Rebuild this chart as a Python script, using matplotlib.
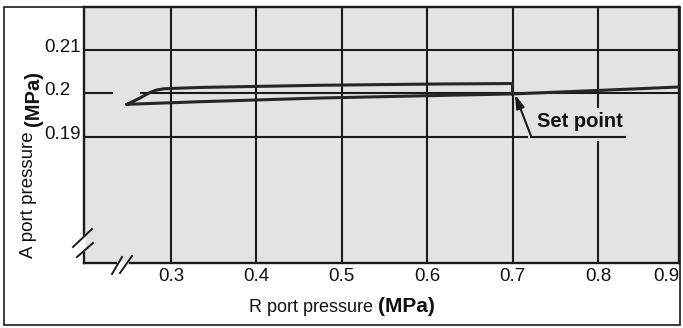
import matplotlib
matplotlib.use('Agg')
import matplotlib.pyplot as plt
import matplotlib.transforms as mtransforms
from matplotlib.patches import Rectangle
from matplotlib.lines import Line2D

plt.rcParams['font.family'] = ['Liberation Sans', 'DejaVu Sans']

# tick values / labels
x_ticks = [0.3, 0.4, 0.5, 0.6, 0.7, 0.8, 0.9]
x_tick_labels = ['0.3', '0.4', '0.5', '0.6', '0.7', '0.8', '0.9']
y_ticks = [0.21, 0.2, 0.19]
y_tick_labels = ['0.21', '0.2', '0.19']

# hysteresis loop: R port pressure (MPa) vs A port pressure (MPa)
loop_r = [0.2485, 0.262, 0.275, 0.283, 0.292, 0.334, 0.474, 0.615, 0.700,
          0.700, 0.615, 0.474, 0.334, 0.2485]
loop_a = [0.1975, 0.1988, 0.2002, 0.2008, 0.2011, 0.2014, 0.2019, 0.2022, 0.2023,
          0.1999, 0.19955, 0.19895, 0.1981, 0.1975]

# curve beyond the set point
over_r = [0.700, 0.800, 0.895]
over_a = [0.1999, 0.2007, 0.2015]

set_point = (0.700, 0.1999)

W, H = 683, 328
xmin, xmax = 0.198, 0.895
ymin, ymax = 0.1608, 0.220
line_col = '#1a1a1a'
txt_col = '#111111'


def px(x, y):
    # pixel position (from top-left) -> figure fraction
    return x / W, 1 - y / H


fig = plt.figure(figsize=(W / 100, H / 100), dpi=100)
fig.patch.set_facecolor('white')
ax = fig.add_axes([84 / W, 1 - 263 / H, 595 / W, 256 / H])
ax.set_facecolor('#e3e3e3')
ax.set_xlim(xmin, xmax)
ax.set_ylim(ymin, ymax)
ax.set_xticks([])
ax.set_yticks([])
for s in ax.spines.values():
    s.set_linewidth(1.7)
    s.set_color(line_col)

# outer frame
fig.add_artist(Rectangle(px(4, 325), 676 / W, 318 / H, transform=fig.transFigure,
                         fill=False, lw=1.2, ec=line_col))

# vertical grid
for v in x_ticks:
    if xmin < v < xmax:
        if v == 0.8:
            ax.plot([v, v], [ymin, 0.1887], color=line_col, lw=1.5, zorder=1)
            ax.plot([v, v], [0.1969, ymax], color=line_col, lw=1.5, zorder=1)
        else:
            ax.plot([v, v], [ymin, ymax], color=line_col, lw=1.5, zorder=1)

# horizontal grid
ax.plot([xmin, xmax], [0.21, 0.21], color=line_col, lw=1.5, zorder=1)
ax.plot([xmin, 0.231], [0.2, 0.2], color=line_col, lw=1.5, zorder=1)
ax.plot([0.265, xmax], [0.2, 0.2], color=line_col, lw=1.5, zorder=1)
ax.plot([xmin, 0.717], [0.19, 0.19], color=line_col, lw=1.5, zorder=1)

# pressure curves
ax.plot(loop_r, loop_a, color='#262626', lw=2.2, zorder=3, solid_joinstyle='round')
ax.plot(over_r, over_a, color='#262626', lw=2.2, zorder=3)

# set point annotation
ax.plot([0.722, 0.832], [0.19, 0.19], color=line_col, lw=1.5, zorder=4)
ax.annotate('', xy=(set_point[0] + 0.003, set_point[1] - 0.0002), xytext=(0.722, 0.19),
            arrowprops=dict(arrowstyle='-|>,head_length=0.8,head_width=0.25',
                            color=line_col, lw=1.5, shrinkA=0, shrinkB=0), zorder=4)
ax.text(0.779, 0.1935, 'Set point', fontsize=14.5, fontweight='bold', ha='center',
        va='center', color=txt_col, zorder=2)

# x tick labels
tx = mtransforms.blended_transform_factory(ax.transData, fig.transFigure)
for v, lab in zip(x_ticks, x_tick_labels):
    if v < xmax:
        ax.text(v, 1 - 276.5 / H, lab, transform=tx, ha='center', va='center', fontsize=13.5,
                color=txt_col)
    else:
        ax.text(xmax, 1 - 276.5 / H, lab, transform=tx, ha='right', va='center', fontsize=13.5,
                color=txt_col)

# y tick labels (left aligned)
ty = mtransforms.offset_copy(mtransforms.blended_transform_factory(fig.transFigure, ax.transData),
                             fig=fig, y=-2, units='dots')
for v, lab in zip(y_ticks, y_tick_labels):
    ax.text(44 / W, v, lab, transform=ty, ha='left', va='baseline', fontsize=13.5,
            color=txt_col)

# axis titles: regular text + bold unit
fig.text(*px(373, 312), 'R port pressure', ha='right', va='baseline', fontsize=13,
         color=txt_col)
fig.text(*px(378, 312), '(MPa)', ha='left', va='baseline', fontsize=15, fontweight='bold',
         color=txt_col)
fig.text(*px(33, 258), 'A port pressure', rotation=90, rotation_mode='anchor',
         ha='left', va='baseline', fontsize=13.5, color=txt_col)
fig.text(*px(38.5, 126), '(MPa)', rotation=90, rotation_mode='anchor',
         ha='left', va='baseline', fontsize=14.5, fontweight='bold', color=txt_col)

# axis break marks
brk = dict(color=line_col, lw=1.4)
fig.add_artist(Line2D([px(84, 0)[0]] * 2, [px(0, 238)[1], px(0, 250)[1]],
                      color='white', lw=2.6, transform=fig.transFigure))
fig.add_artist(Line2D([px(73, 0)[0], px(92, 0)[0]], [px(0, 247)[1], px(0, 229)[1]],
                      transform=fig.transFigure, **brk))
fig.add_artist(Line2D([px(77, 0)[0], px(93, 0)[0]], [px(0, 257)[1], px(0, 243)[1]],
                      transform=fig.transFigure, **brk))
fig.add_artist(Line2D([px(119, 0)[0], px(127, 0)[0]], [px(0, 263)[1]] * 2,
                      color='white', lw=2.6, transform=fig.transFigure))
fig.add_artist(Line2D([px(112, 0)[0], px(122, 0)[0]], [px(0, 274)[1], px(0, 257)[1]],
                      transform=fig.transFigure, **brk))
fig.add_artist(Line2D([px(120, 0)[0], px(132, 0)[0]], [px(0, 273)[1], px(0, 256)[1]],
                      transform=fig.transFigure, **brk))

fig.savefig('out.png', dpi=100)
